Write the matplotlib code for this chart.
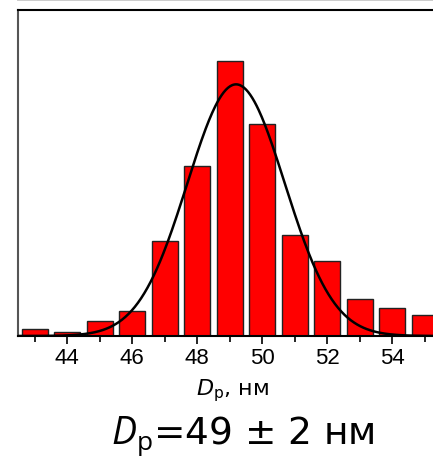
import numpy as np
import matplotlib.pyplot as plt
from matplotlib.lines import Line2D

# size distribution
diam = [43, 44, 45, 46, 47, 48, 49, 50, 51, 52, 53, 54, 55]
counts = [1.9, 1.2, 4.2, 7.0, 26.9, 48.2, 78.0, 60.1, 28.6, 21.3, 10.6, 7.9, 6.0]
major_ticks = [44, 46, 48, 50, 52, 54]
minor_ticks = [43, 45, 47, 49, 51, 53, 55]

# gaussian fit
mu, sigma, amp = 49.2, 1.5, 71.4

plt.rcParams['mathtext.fontset'] = 'custom'
plt.rcParams['mathtext.rm'] = 'Open Sans'
plt.rcParams['mathtext.it'] = 'Open Sans:italic'

fig = plt.figure(figsize=(4.33, 4.59), dpi=100)
ax = fig.add_axes([18 / 433, 123 / 459, 415 / 433, 326 / 459])

ax.bar(diam, counts, width=0.8, color="#ff0000", edgecolor="#222222", linewidth=1.0, zorder=2)

xs = np.linspace(42.5, 55.5, 400)
ax.plot(xs, amp * np.exp(-(xs - mu) ** 2 / (2 * sigma ** 2)), color="black", lw=1.8, zorder=3)

ax.set_xlim(42.49, 55.26)
ax.set_ylim(0, 92.5)
ax.set_yticks([])
ax.set_xticks(major_ticks)
ax.set_xticks(minor_ticks, minor=True)
ax.tick_params(axis="x", which="major", length=6, width=1.2, labelsize=16, pad=3)
ax.tick_params(axis="x", which="minor", length=4, width=1.2)
for lab in ax.get_xticklabels():
    lab.set_family("Liberation Sans")

ax.spines["right"].set_visible(False)
ax.spines["left"].set_color("#555555")
ax.spines["left"].set_linewidth(1.5)
ax.spines["top"].set_linewidth(1.5)
ax.spines["bottom"].set_linewidth(1.5)

# axis label
fig.text(233 / 433, 64 / 459, r"$D_{\mathrm{p}}$, нм", fontsize=16, math_fontfamily="dejavusans",
         ha="center", va="baseline")

# result
fig.text(243 / 433, 15 / 459, r"$D_{\mathrm{p}}$=49 ± 2 нм", fontsize=27, math_fontfamily="custom",
         ha="center", va="baseline")

fig.add_artist(Line2D([0.04, 1.0], [0.999, 0.999], color="#cccccc", lw=0.7, transform=fig.transFigure))

fig.savefig("out.png", dpi=100)
